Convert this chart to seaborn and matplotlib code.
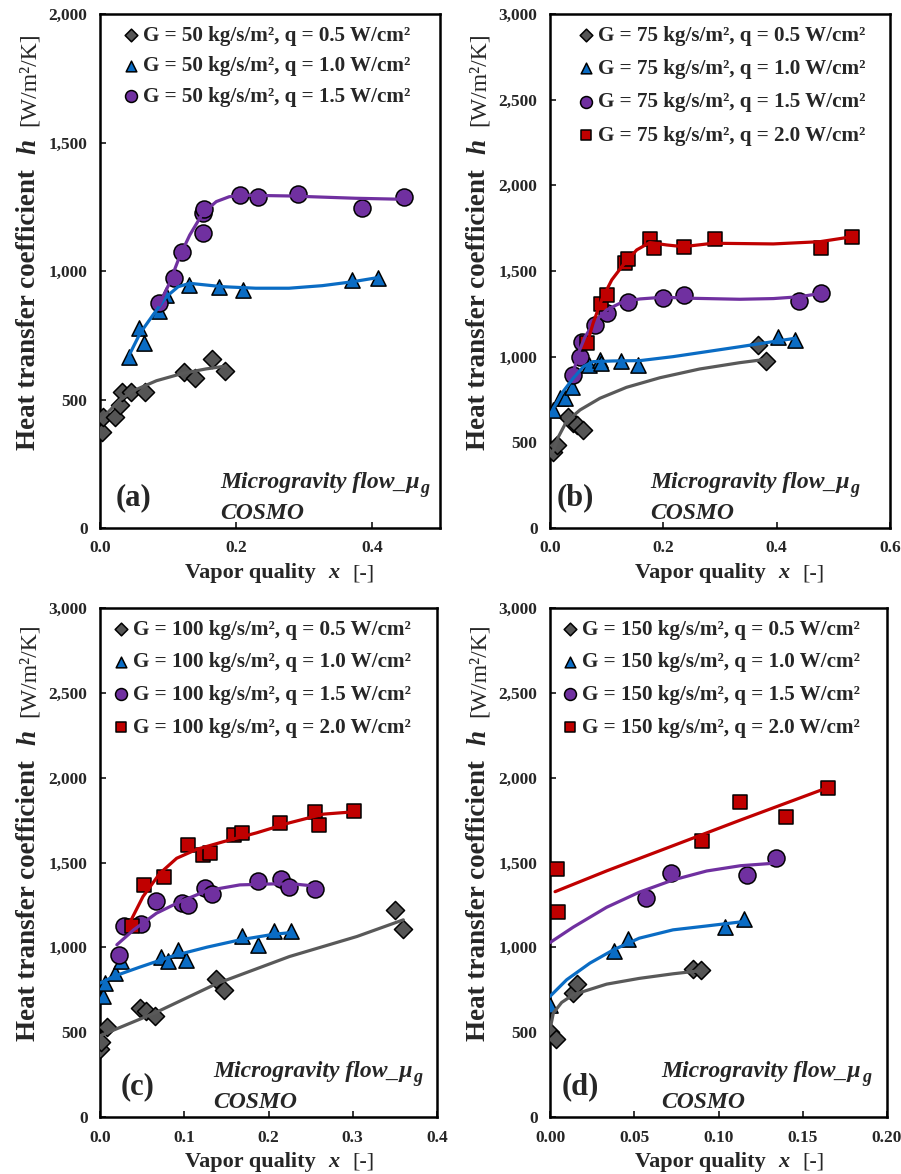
import matplotlib
matplotlib.use("Agg")
import matplotlib.pyplot as plt
import seaborn as sns
import numpy as np
import pandas as pd
from matplotlib.transforms import IdentityTransform
from matplotlib.ticker import FuncFormatter, FixedLocator

# ---------------- data: panel (a) G = 50 ----------------
a_x_05 = [0.003, 0.005, 0.022, 0.030, 0.033, 0.046, 0.066, 0.123, 0.140, 0.165, 0.184]
a_h_05 = [375, 433, 433, 478, 530, 530, 530, 606, 582, 658, 612]
a_x_10 = [0.043, 0.057, 0.064, 0.087, 0.0975, 0.131, 0.175, 0.211, 0.371, 0.409]
a_h_10 = [664, 777, 721, 844, 907, 945, 939, 926, 965, 974]
a_x_15 = [0.087, 0.109, 0.121, 0.151, 0.151, 0.153, 0.206, 0.233, 0.291, 0.386, 0.447]
a_h_15 = [874, 971, 1075, 1149, 1227, 1240, 1296, 1289, 1300, 1246, 1289]
a_fx_05 = [0.0, 0.015, 0.029, 0.049, 0.083, 0.122, 0.156, 0.185]
a_fh_05 = [420, 459, 498, 534, 573, 602, 619, 630]
a_fx_10 = [0.043, 0.059, 0.078, 0.0976, 0.115, 0.132, 0.180, 0.229, 0.278, 0.327, 0.371, 0.410]
a_fh_10 = [673, 758, 829, 900, 939, 952, 939, 933, 933, 943, 958, 975]
a_fx_15 = [0.087, 0.102, 0.117, 0.132, 0.151, 0.171, 0.190, 0.210, 0.278, 0.376, 0.447]
a_fh_15 = [868, 952, 1056, 1140, 1224, 1270, 1289, 1295, 1292, 1283, 1279]

# ---------------- data: panel (b) G = 75 ----------------
b_x_05 = [0.006, 0.012, 0.032, 0.041, 0.047, 0.059, 0.367, 0.381]
b_h_05 = [445, 485, 650, 611, 601, 572, 1068, 977]
b_x_10 = [0.006, 0.018, 0.026, 0.038, 0.068, 0.088, 0.090, 0.126, 0.156, 0.402, 0.432]
b_h_10 = [689, 757, 757, 821, 951, 981, 965, 975, 951, 1113, 1097]
b_x_15 = [0.041, 0.053, 0.056, 0.079, 0.100, 0.137, 0.199, 0.236, 0.439, 0.479]
b_h_15 = [893, 1000, 1088, 1185, 1257, 1321, 1341, 1360, 1327, 1370]
b_x_20 = [0.066, 0.090, 0.100, 0.132, 0.138, 0.176, 0.183, 0.236, 0.291, 0.479, 0.533]
b_h_20 = [1078, 1308, 1360, 1545, 1569, 1685, 1633, 1642, 1685, 1633, 1700]
b_fx_05 = [0.005, 0.015, 0.029, 0.053, 0.088, 0.135, 0.194, 0.264, 0.335, 0.382]
b_fh_05 = [445, 533, 621, 689, 757, 821, 877, 928, 965, 985]
b_fx_10 = [0.006, 0.023, 0.041, 0.059, 0.076, 0.112, 0.159, 0.217, 0.276, 0.335, 0.394, 0.432]
b_fh_10 = [699, 796, 874, 942, 971, 975, 977, 1000, 1029, 1058, 1088, 1107]
b_fx_15 = [0.041, 0.050, 0.062, 0.079, 0.100, 0.129, 0.159, 0.200, 0.247, 0.335, 0.394, 0.441, 0.479]
b_fh_15 = [903, 1020, 1117, 1204, 1273, 1321, 1337, 1347, 1341, 1335, 1339, 1350, 1370]
b_fx_20 = [0.065, 0.076, 0.091, 0.109, 0.129, 0.153, 0.176, 0.206, 0.235, 0.288, 0.394, 0.476, 0.533]
b_fh_20 = [1068, 1195, 1331, 1448, 1535, 1623, 1666, 1652, 1642, 1662, 1658, 1671, 1700]

# ---------------- data: panel (c) G = 100 ----------------
c_x_05 = [0.000, 0.001, 0.008, 0.047, 0.055, 0.065, 0.138, 0.147, 0.350, 0.360]
c_h_05 = [402, 441, 531, 643, 624, 594, 814, 751, 1219, 1111]
c_x_10 = [0.003, 0.006, 0.018, 0.025, 0.072, 0.081, 0.092, 0.102, 0.168, 0.187, 0.207, 0.227]
c_h_10 = [712, 791, 850, 918, 944, 918, 987, 924, 1065, 1016, 1095, 1095]
c_x_15 = [0.022, 0.028, 0.049, 0.067, 0.097, 0.104, 0.125, 0.133, 0.187, 0.215, 0.224, 0.255]
c_h_15 = [954, 1128, 1138, 1276, 1262, 1248, 1351, 1315, 1390, 1400, 1354, 1345]
c_x_20 = [0.038, 0.052, 0.076, 0.105, 0.122, 0.131, 0.159, 0.169, 0.214, 0.255, 0.260, 0.302]
c_h_20 = [1124, 1370, 1415, 1602, 1547, 1557, 1665, 1675, 1730, 1796, 1720, 1802]
c_fx_05 = [0.0, 0.065, 0.138, 0.225, 0.305, 0.360]
c_fh_05 = [479, 613, 785, 946, 1064, 1162]
c_fx_10 = [0.0, 0.018, 0.047, 0.087, 0.127, 0.166, 0.206, 0.227]
c_fh_10 = [789, 832, 883, 950, 1001, 1044, 1077, 1087]
c_fx_15 = [0.020, 0.040, 0.067, 0.095, 0.127, 0.166, 0.206, 0.233, 0.261]
c_fh_15 = [1015, 1103, 1201, 1269, 1334, 1368, 1374, 1372, 1358]
c_fx_20 = [0.035, 0.051, 0.071, 0.091, 0.115, 0.146, 0.186, 0.225, 0.265, 0.302]
c_fh_20 = [1142, 1299, 1436, 1525, 1578, 1622, 1675, 1734, 1785, 1799]

# ---------------- data: panel (d) G = 150 ----------------
d_x_05 = [0.000, 0.0036, 0.0138, 0.0158, 0.085, 0.0894]
d_h_05 = [499, 460, 730, 783, 874, 868]
d_x_10 = [0.000, 0.038, 0.046, 0.104, 0.115]
d_h_10 = [662, 981, 1048, 1122, 1168]
d_x_15 = [0.057, 0.072, 0.117, 0.134]
d_h_15 = [1289, 1440, 1426, 1528]
d_x_20 = [0.004, 0.005, 0.090, 0.113, 0.140, 0.165]
d_h_20 = [1460, 1207, 1626, 1854, 1766, 1942]
d_fx_05 = [0.0, 0.002, 0.0069, 0.0138, 0.0336, 0.053, 0.073, 0.089]
d_fh_05 = [515, 613, 675, 721, 783, 817, 844, 862]
d_fx_10 = [0.0, 0.0099, 0.0237, 0.0376, 0.053, 0.073, 0.093, 0.115]
d_fh_10 = [711, 809, 907, 985, 1054, 1103, 1126, 1152]
d_fx_15 = [0.0, 0.0138, 0.0336, 0.053, 0.073, 0.093, 0.113, 0.132]
d_fh_15 = [1028, 1119, 1236, 1325, 1397, 1450, 1481, 1495]
d_fx_20 = [0.003, 0.034, 0.073, 0.113, 0.165]
d_fh_20 = [1328, 1452, 1599, 1750, 1942]

q_labels = ["0.5", "1.0", "1.5", "2.0"]
G_values = ["50", "75", "100", "150"]
panel_tags = ["(a)", "(b)", "(c)", "(d)"]

# ---------------- styles ----------------
STY = {
    "0.5": dict(marker="D", face="#555555", line="#595959", s=85),
    "1.0": dict(marker="^", face="#0a6cc4", line="#0a6cc4", s=120),
    "1.5": dict(marker="o", face="#7030A0", line="#7030A0", s=150),
    "2.0": dict(marker="s", face="#C00000", line="#C00000", s=100),
}

sns.set_theme(style="white")
SERIF = ["Liberation Serif", "DejaVu Serif"]
plt.rcParams["font.family"] = SERIF

W, H = 901, 1174
fig = plt.figure(figsize=(W / 100, H / 100), dpi=100)


def ax_rect(left, top, right, bottom):
    return [left / W, (H - bottom) / H, (right - left) / W, (bottom - top) / H]


axes_px = [
    (100, 14, 440, 528),
    (550, 14, 890, 528),
    (100, 608, 437, 1117),
    (550, 608, 887, 1117),
]
axs = [fig.add_axes(ax_rect(*p)) for p in axes_px]

panels = [
    dict(series=[("0.5", a_x_05, a_h_05, a_fx_05, a_fh_05),
                 ("1.0", a_x_10, a_h_10, a_fx_10, a_fh_10),
                 ("1.5", a_x_15, a_h_15, a_fx_15, a_fh_15)],
         xlim=(0, 0.5), xticks=[0.0, 0.2, 0.4], xfmt="{:.1f}", ymax=2000, ystep=500,
         leg_x=0.032, leg_sp=0.5, tag_x=0.045, mg_x=0.353),
    dict(series=[("0.5", b_x_05, b_h_05, b_fx_05, b_fh_05),
                 ("1.0", b_x_10, b_h_10, b_fx_10, b_fh_10),
                 ("1.5", b_x_15, b_h_15, b_fx_15, b_fh_15),
                 ("2.0", b_x_20, b_h_20, b_fx_20, b_fh_20)],
         xlim=(0, 0.6), xticks=[0.0, 0.2, 0.4, 0.6], xfmt="{:.1f}", ymax=3000, ystep=500,
         leg_x=0.047, leg_sp=0.63, tag_x=0.02, mg_x=0.294),
    dict(series=[("0.5", c_x_05, c_h_05, c_fx_05, c_fh_05),
                 ("1.0", c_x_10, c_h_10, c_fx_10, c_fh_10),
                 ("1.5", c_x_15, c_h_15, c_fx_15, c_fh_15),
                 ("2.0", c_x_20, c_h_20, c_fx_20, c_fh_20)],
         xlim=(0, 0.4), xticks=[0.0, 0.1, 0.2, 0.3, 0.4], xfmt="{:.1f}", ymax=3000, ystep=500,
         leg_x=0.003, leg_sp=0.6, tag_x=0.06, mg_x=0.336),
    dict(series=[("0.5", d_x_05, d_h_05, d_fx_05, d_fh_05),
                 ("1.0", d_x_10, d_h_10, d_fx_10, d_fh_10),
                 ("1.5", d_x_15, d_h_15, d_fx_15, d_fh_15),
                 ("2.0", d_x_20, d_h_20, d_fx_20, d_fh_20)],
         xlim=(0, 0.2), xticks=[0.0, 0.05, 0.10, 0.15, 0.20], xfmt="{:.2f}", ymax=3000, ystep=500,
         leg_x=0.0, leg_sp=0.6, tag_x=0.035, mg_x=0.331),
]

for i, (ax, P) in enumerate(zip(axs, panels)):
    G = G_values[i]
    for q, xs, hs, fx, fh in P["series"]:
        st = STY[q]
        sns.scatterplot(x=xs, y=hs, ax=ax, marker=st["marker"], s=st["s"],
                        color=st["face"], edgecolor="black", linewidth=1.1,
                        label=f"G = {G} kg/s/m\u00b2, q = {q} W/cm\u00b2", zorder=3)
        sns.lineplot(x=fx, y=fh, ax=ax, color=st["line"], linewidth=2.3,
                     sort=False, estimator=None, legend=False, zorder=4)
    ax.set_xlim(*P["xlim"])
    ax.set_ylim(0, P["ymax"])
    ax.xaxis.set_major_locator(FixedLocator(P["xticks"]))
    fmt = P["xfmt"]
    ax.xaxis.set_major_formatter(FuncFormatter(lambda v, p, f=fmt: f.format(v)))
    ax.yaxis.set_major_locator(FixedLocator(np.arange(0, P["ymax"] + 1, P["ystep"])))
    ax.yaxis.set_major_formatter(FuncFormatter(lambda v, p: f"{int(round(v)):,}"))
    ax.tick_params(direction="in", length=4, width=1.3, labelsize=12.5, pad=9,
                   bottom=True, left=True, top=False, right=False)
    for lab in ax.get_xticklabels() + ax.get_yticklabels():
        lab.set_fontweight("bold")
        lab.set_fontfamily(SERIF)
    for sp in ax.spines.values():
        sp.set_color("black")
        sp.set_linewidth(1.8)
    ax.set_xlabel("")
    ax.set_ylabel("")
    ax.legend(loc="upper left", bbox_to_anchor=(P["leg_x"], 1.0), frameon=False,
              prop=dict(family=SERIF, weight="bold", size=15.2),
              handlelength=0.8, handletextpad=0.15, labelspacing=P["leg_sp"],
              borderaxespad=0.3, borderpad=0.25, markerscale=0.7)
    ax.text(P["tag_x"], 0.045, panel_tags[i], transform=ax.transAxes, ha="left", va="baseline",
            fontsize=22, fontweight="bold", family=SERIF)

fig.canvas.draw()
renderer = fig.canvas.get_renderer()

BOLD = dict(family=SERIF, weight="bold")
BI = dict(family=SERIF, weight="bold", style="italic")
REG = dict(family=SERIF, weight="normal")


def layout(pieces, x0, y0, rotation=0, center=False):
    """pieces: (text, props, size, gap_before_px, baseline_shift_px)"""
    objs = []
    for s, props, size, gap, shift in pieces:
        t = fig.text(0, 0, s, transform=IdentityTransform(), ha="left", va="baseline",
                     rotation=rotation, rotation_mode="anchor", fontsize=size, **props)
        bb = t.get_window_extent(renderer)
        length = bb.width if rotation == 0 else bb.height
        objs.append((t, gap, shift, length))
    total = sum(g + L for _, g, _, L in objs)
    pos = -total / 2 if center else 0
    for t, gap, shift, L in objs:
        pos += gap
        if rotation == 0:
            t.set_position((x0 + pos, y0 + shift))
        else:
            t.set_position((x0 - shift, y0 + pos))
        pos += L


for i, (ax, (l, t, r, b)) in enumerate(zip(axs, axes_px)):
    # y label
    ycen = H - ((t + b) / 2 - 30)
    layout([("Heat transfer coefficient", BOLD, 19.5, 0, 0),
            ("h", BI, 19.5, 15, 0),
            ("[W/m\u00b2/K]", REG, 17, 13, 0)],
           l - 65, ycen, rotation=90, center=True)
    # x label
    layout([("Vapor quality", BOLD, 16, 0, 0),
            ("x", BI, 16, 13, 0),
            ("[-]", REG, 16, 12, 0)],
           l + 85, H - (b + 50))
    # microgravity annotation
    P = panels[i]
    mgx = l + P["mg_x"] * (r - l)
    layout([("Microgravity flow_\u03bc", BI, 17, 0, 0),
            ("g", BI, 13, 1, -5)],
           mgx, H - (b - 40))
    layout([("COSMO", BI, 17, 0, 0)], mgx, H - (b - 9))

fig.savefig("out.png", dpi=100)
